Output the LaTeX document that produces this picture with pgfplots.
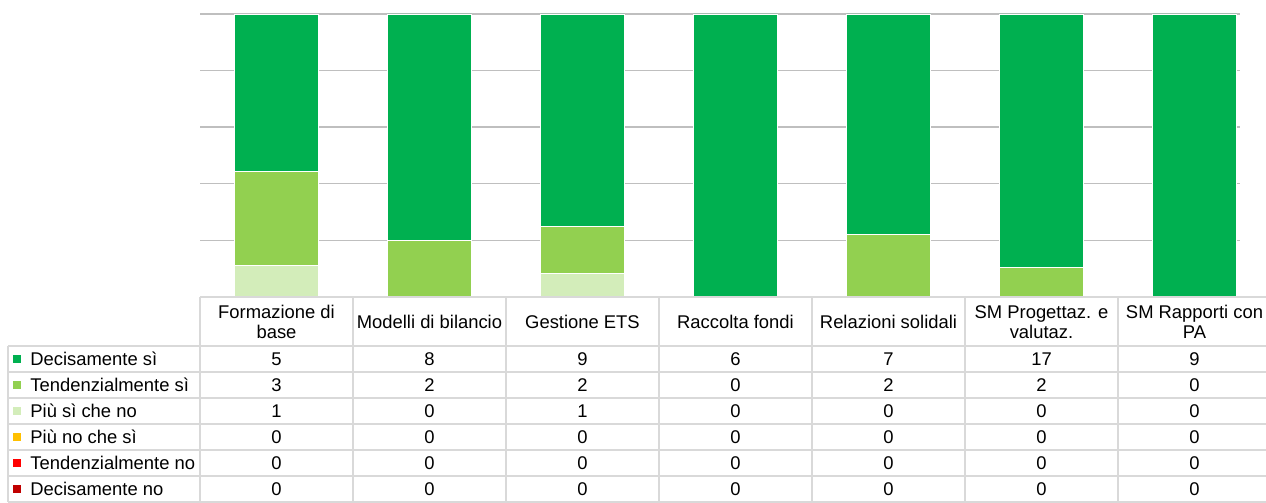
\documentclass[border=0pt]{standalone}
\usepackage{fontspec}
\setmainfont{Liberation Sans}
\usepackage{pgfplots}
\usepackage{pgfplotstable}
\pgfplotsset{compat=1.18}

\definecolor{cds}{HTML}{00B050}
\definecolor{cts}{HTML}{92D050}
\definecolor{cps}{HTML}{D3EDBA}
\definecolor{cpn}{HTML}{FFC000}
\definecolor{ctn}{HTML}{FF0000}
\definecolor{cdn}{HTML}{C00000}
\definecolor{tabline}{HTML}{D9D9D9}
\definecolor{gridc}{HTML}{BFBFBF}

% counts per category (rows) and answer (columns)
\pgfplotstableread{
x ds ts ps pn tn dn
0 5 3 1 0 0 0
1 8 2 0 0 0 0
2 9 2 1 0 0 0
3 6 0 0 0 0 0
4 7 2 0 0 0 0
5 17 2 0 0 0 0
6 9 0 0 0 0 0
}\data
\pgfplotstablecreatecol[expr={\thisrow{ds}+\thisrow{ts}+\thisrow{ps}+\thisrow{pn}+\thisrow{tn}+\thisrow{dn}}]{tot}\data

\begin{document}
\begin{tikzpicture}
\path[use as bounding box] (0,0) rectangle (633pt,251.5pt);
% gridlines (stop short of the right edge, as in the original)
\begin{scope}[x=0.5pt, y=-0.5pt, shift={(0,251.5pt)}]
  \foreach \y in {14,70.6,127.2,183.8,240.4}
    \draw[gridc, line width=0.7pt] (200,\y) -- (1240,\y);
\end{scope}
\begin{axis}[
    at={(100pt,103pt)}, anchor=south west,
    scale only axis, width=533pt, height=141.5pt,
    xmin=-0.5, xmax=6.467, ymin=0, ymax=100,
    ybar stacked, bar width=42pt,
    axis line style={draw=none},
    xtick=\empty, ytick=\empty,
    major tick length=0pt,
]
\addplot[fill=cdn, draw=white, line width=0.4pt] table[x=x, y expr=100*\thisrow{dn}/\thisrow{tot}] {\data};
\addplot[fill=ctn, draw=white, line width=0.4pt] table[x=x, y expr=100*\thisrow{tn}/\thisrow{tot}] {\data};
\addplot[fill=cpn, draw=white, line width=0.4pt] table[x=x, y expr=100*\thisrow{pn}/\thisrow{tot}] {\data};
\addplot[fill=cps, draw=white, line width=0.4pt] table[x=x, y expr=100*\thisrow{ps}/\thisrow{tot}] {\data};
\addplot[fill=cts, draw=white, line width=0.4pt] table[x=x, y expr=100*\thisrow{ts}/\thisrow{tot}] {\data};
\addplot[fill=cds, draw=white, line width=0.4pt] table[x=x, y expr=100*\thisrow{ds}/\thisrow{tot}] {\data};
\end{axis}

% data table below the chart, in pixel units from the top-left corner
\begin{scope}[x=0.5pt, y=-0.5pt, shift={(0,251.5pt)},
    every node/.style={font=\fontsize{9.2}{10.2}\selectfont, inner sep=0pt}]
  \draw[tabline, line width=0.8pt] (200,297) -- (1266,297);
  \foreach \y in {346,372,398,424,450,476,502}
    \draw[tabline, line width=0.8pt] (8,\y) -- (1266,\y);
  \foreach \x in {200,353,506,659,812,965,1118}
    \draw[tabline, line width=0.8pt] (\x,297) -- (\x,502);
  \draw[tabline, line width=0.8pt] (8,346) -- (8,502);

  \foreach \lab [count=\c from 0] in {{Formazione di\\base},{Modelli di bilancio},{Gestione ETS},{Raccolta fondi},{Relazioni solidali},{SM Progettaz. e\\valutaz.},{SM Rapporti con\\PA}}
    \node[align=center] at ({276.5+153*\c},322) {\lab};

  \foreach \col/\name/\cc [count=\r from 0] in {ds/Decisamente sì/cds, ts/Tendenzialmente sì/cts, ps/Più sì che no/cps, pn/Più no che sì/cpn, tn/Tendenzialmente no/ctn, dn/Decisamente no/cdn} {
    \fill[\cc] (13,{355+26*\r}) rectangle (21,{363+26*\r});
    \node[anchor=west] at (30,{359+26*\r}) {\name};
    \foreach \c in {0,...,6} {
      \pgfplotstablegetelem{\c}{\col}\of\data
      \node at ({276.5+153*\c},{359+26*\r}) {\pgfplotsretval};
    }
  }
\end{scope}
\end{tikzpicture}
\end{document}
